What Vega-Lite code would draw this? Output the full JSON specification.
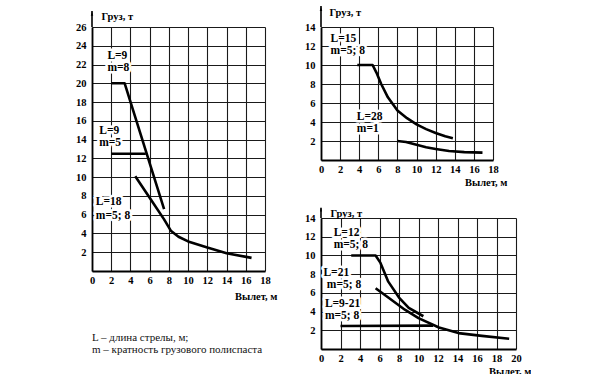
{
  "$schema": "https://vega.github.io/schema/vega-lite/v6.json",
  "background": "white",
  "padding": {"left": 75, "top": 5, "right": 0, "bottom": 0},
  "bounds": "full",
  "spacing": 27,
  "hconcat": [
    {
      "width": 173,
      "height": 244,
      "title": {
        "text": ["L – длина стрелы, м;", "m – кратность грузового полиспаста"],
        "orient": "bottom",
        "anchor": "start",
        "frame": "group",
        "font": "Liberation Serif",
        "fontSize": 11,
        "fontWeight": "normal",
        "lineHeight": 12,
        "offset": 30,
        "color": "#111"
      },
      "layer": [
        {
          "data": {"values": [
            {"s": "L9m8", "x": 2, "y": 20}, {"s": "L9m8", "x": 3.4, "y": 20}, {"s": "L9m8", "x": 7.5, "y": 6.6},
            {"s": "L9m5", "x": 2, "y": 12.5}, {"s": "L9m5", "x": 5.6, "y": 12.5},
            {"s": "L18", "x": 4.5, "y": 10.1}, {"s": "L18", "x": 6, "y": 7.8}, {"s": "L18", "x": 7.5, "y": 5.5}, {"s": "L18", "x": 8.2, "y": 4.3}, {"s": "L18", "x": 9, "y": 3.65}, {"s": "L18", "x": 10, "y": 3.15}, {"s": "L18", "x": 12, "y": 2.5}, {"s": "L18", "x": 14, "y": 1.9}, {"s": "L18", "x": 16.6, "y": 1.4}
          ]},
          "mark": {"type": "line", "color": "#000", "strokeWidth": 2.6, "strokeJoin": "round", "strokeCap": "butt"},
          "encoding": {
            "x": {"field": "x", "type": "quantitative", "scale": {"domain": [0, 18], "nice": false},
              "axis": {"values": [0, 2, 4, 6, 8, 10, 12, 14, 16, 18], "tickCount": 40, "format": "d", "title": "Вылет, м", "titleAlign": "right", "titleAnchor": null, "titleX": 185, "titleY": 25, "titleBaseline": "middle",
                "encode": {"labels": {"update": {"dx": {"signal": "datum.value === 0 ? -7 : 0"}}}}}},
            "y": {"field": "y", "type": "quantitative", "scale": {"domain": [0, 26], "nice": false},
              "axis": {"values": [2, 4, 6, 8, 10, 12, 14, 16, 18, 20, 22, 24, 26], "tickCount": 40, "format": "d", "title": "Груз, т", "titleAngle": 0, "titleAlign": "left", "titleAnchor": null, "titleX": 9, "titleY": -11, "titleBaseline": "middle", "labelPadding": 6}},
            "detail": {"field": "s"}
          }
        },
        {
          "data": {"name": "lblL", "values": [
            {"x": 1.6, "y": 22.9, "t": "L=9"}, {"x": 1.6, "y": 21.6, "t": "m=8"},
            {"x": 0.75, "y": 14.9, "t": "L=9"}, {"x": 0.75, "y": 13.6, "t": "m=5"},
            {"x": 0.4, "y": 7.4, "t": "L=18"}, {"x": 0.4, "y": 5.9, "t": "m=5; 8"}
          ]},
          "mark": {"type": "text", "align": "left", "baseline": "middle", "font": "Liberation Serif", "fontSize": 11.5, "fontWeight": "bold", "color": "#fff", "stroke": "#fff", "strokeWidth": 5, "strokeJoin": "round"},
          "encoding": {"x": {"field": "x", "type": "quantitative"}, "y": {"field": "y", "type": "quantitative"}, "text": {"field": "t"}}
        },
        {
          "data": {"name": "lblL"},
          "mark": {"type": "text", "align": "left", "baseline": "middle", "font": "Liberation Serif", "fontSize": 11.5, "fontWeight": "bold", "color": "#000"},
          "encoding": {"x": {"field": "x", "type": "quantitative"}, "y": {"field": "y", "type": "quantitative"}, "text": {"field": "t"}}
        },
        {
          "data": {"values": [{"x": 0, "y": 26, "y2": 27.7}]},
          "mark": {"type": "rule", "color": "#000", "strokeWidth": 1.6},
          "encoding": {"x": {"field": "x", "type": "quantitative"}, "y": {"field": "y", "type": "quantitative"}, "y2": {"field": "y2"}}
        },
        {
          "data": {"values": [{"x": 0, "y": 27.3}]},
          "mark": {"type": "point", "shape": "M0,-1L0.35,0.3L-0.35,0.3Z", "size": 49, "filled": true, "color": "#000", "opacity": 1},
          "encoding": {"x": {"field": "x", "type": "quantitative"}, "y": {"field": "y", "type": "quantitative"}}
        }
      ]
    },
    {
      "spacing": 18,
      "vconcat": [
        {
          "width": 172,
          "height": 133,
          "layer": [
            {
              "data": {"values": [
                {"s": "L15", "x": 3.8, "y": 10}, {"s": "L15", "x": 5.4, "y": 10}, {"s": "L15", "x": 5.8, "y": 9.2}, {"s": "L15", "x": 6.3, "y": 8.0}, {"s": "L15", "x": 7, "y": 6.6}, {"s": "L15", "x": 8, "y": 5.2}, {"s": "L15", "x": 9, "y": 4.4}, {"s": "L15", "x": 10, "y": 3.75}, {"s": "L15", "x": 11, "y": 3.25}, {"s": "L15", "x": 12, "y": 2.85}, {"s": "L15", "x": 13, "y": 2.5}, {"s": "L15", "x": 13.8, "y": 2.3},
                {"s": "L28", "x": 8, "y": 2.0}, {"s": "L28", "x": 8.9, "y": 1.9}, {"s": "L28", "x": 10, "y": 1.6}, {"s": "L28", "x": 11, "y": 1.35}, {"s": "L28", "x": 12, "y": 1.15}, {"s": "L28", "x": 13.4, "y": 0.95}, {"s": "L28", "x": 15, "y": 0.83}, {"s": "L28", "x": 16.9, "y": 0.78}
              ]},
              "mark": {"type": "line", "color": "#000", "strokeWidth": 2.6, "strokeJoin": "round"},
              "encoding": {
                "x": {"field": "x", "type": "quantitative", "scale": {"domain": [0, 18], "nice": false},
                  "axis": {"values": [0, 2, 4, 6, 8, 10, 12, 14, 16, 18], "tickCount": 40, "format": "d", "title": "Вылет, м", "titleAlign": "right", "titleAnchor": null, "titleX": 186, "titleY": 22, "titleBaseline": "middle",
                    "encode": {"labels": {"update": {"dx": {"signal": "datum.value === 0 ? -6.5 : 0"}}}}}},
                "y": {"field": "y", "type": "quantitative", "scale": {"domain": [0, 14], "nice": false},
                  "axis": {"values": [2, 4, 6, 8, 10, 12, 14], "tickCount": 40, "format": "d", "title": "Груз, т", "titleAngle": 0, "titleAlign": "left", "titleAnchor": null, "titleX": 8, "titleY": -15, "titleBaseline": "middle", "labelPadding": 6}},
                "detail": {"field": "s"}
              }
            },
            {
              "data": {"name": "lblTR", "values": [
                {"x": 1.0, "y": 12.7, "t": "L=15"}, {"x": 1.0, "y": 11.5, "t": "m=5; 8"},
                {"x": 3.75, "y": 4.5, "t": "L=28"}, {"x": 3.75, "y": 3.26, "t": "m=1"}
              ]},
              "mark": {"type": "text", "align": "left", "baseline": "middle", "font": "Liberation Serif", "fontSize": 11.5, "fontWeight": "bold", "color": "#fff", "stroke": "#fff", "strokeWidth": 5, "strokeJoin": "round"},
              "encoding": {"x": {"field": "x", "type": "quantitative"}, "y": {"field": "y", "type": "quantitative"}, "text": {"field": "t"}}
            },
            {
              "data": {"name": "lblTR"},
              "mark": {"type": "text", "align": "left", "baseline": "middle", "font": "Liberation Serif", "fontSize": 11.5, "fontWeight": "bold", "color": "#000"},
              "encoding": {"x": {"field": "x", "type": "quantitative"}, "y": {"field": "y", "type": "quantitative"}, "text": {"field": "t"}}
            },
            {
              "data": {"values": [{"x": 0, "y": 14, "y2": 16.2}]},
              "mark": {"type": "rule", "color": "#000", "strokeWidth": 1.6},
              "encoding": {"x": {"field": "x", "type": "quantitative"}, "y": {"field": "y", "type": "quantitative"}, "y2": {"field": "y2"}}
            },
            {
              "data": {"values": [{"x": 0, "y": 15.8}]},
              "mark": {"type": "point", "shape": "M0,-1L0.35,0.3L-0.35,0.3Z", "size": 49, "filled": true, "color": "#000", "opacity": 1},
              "encoding": {"x": {"field": "x", "type": "quantitative"}, "y": {"field": "y", "type": "quantitative"}}
            }
          ]
        },
        {
          "width": 195,
          "height": 131,
          "layer": [
            {
              "data": {"values": [
                {"s": "L12", "x": 3.1, "y": 10}, {"s": "L12", "x": 5.6, "y": 10}, {"s": "L12", "x": 6.1, "y": 9.2}, {"s": "L12", "x": 6.9, "y": 7.2}, {"s": "L12", "x": 8, "y": 5.5}, {"s": "L12", "x": 9, "y": 4.4}, {"s": "L12", "x": 10.5, "y": 3.5},
                {"s": "L21", "x": 5.6, "y": 6.5}, {"s": "L21", "x": 6.9, "y": 5.5}, {"s": "L21", "x": 8.6, "y": 4.2}, {"s": "L21", "x": 10, "y": 3.3}, {"s": "L21", "x": 12.1, "y": 2.3}, {"s": "L21", "x": 14.1, "y": 1.7}, {"s": "L21", "x": 16.5, "y": 1.4}, {"s": "L21", "x": 19.3, "y": 1.1},
                {"s": "L921", "x": 2, "y": 2.45}, {"s": "L921", "x": 11.5, "y": 2.5}
              ]},
              "mark": {"type": "line", "color": "#000", "strokeWidth": 2.6, "strokeJoin": "round"},
              "encoding": {
                "x": {"field": "x", "type": "quantitative", "scale": {"domain": [0, 20], "nice": false},
                  "axis": {"values": [0, 2, 4, 6, 8, 10, 12, 14, 16, 18, 20], "tickCount": 40, "format": "d", "title": "Вылет, м", "titleAlign": "right", "titleAnchor": null, "titleX": 210, "titleY": 22, "titleBaseline": "middle",
                    "encode": {"labels": {"update": {"dx": {"signal": "datum.value === 0 ? -6 : 0"}}}}}},
                "y": {"field": "y", "type": "quantitative", "scale": {"domain": [0, 14], "nice": false},
                  "axis": {"values": [2, 4, 6, 8, 10, 12, 14], "tickCount": 40, "format": "d", "title": "Груз, т", "titleAngle": 0, "titleAlign": "left", "titleAnchor": null, "titleX": 9, "titleY": -5, "titleBaseline": "middle", "labelPadding": 6}},
                "detail": {"field": "s"}
              }
            },
            {
              "data": {"name": "lblBR", "values": [
                {"x": 1.3, "y": 12.4, "t": "L=12"}, {"x": 1.3, "y": 11.1, "t": "m=5; 8"},
                {"x": 0.25, "y": 8.1, "t": "L=21"}, {"x": 0.6, "y": 6.8, "t": "m=5; 8"},
                {"x": 0.4, "y": 4.8, "t": "L=9-21"}, {"x": 0.4, "y": 3.5, "t": "m=5; 8"}
              ]},
              "mark": {"type": "text", "align": "left", "baseline": "middle", "font": "Liberation Serif", "fontSize": 11.5, "fontWeight": "bold", "color": "#fff", "stroke": "#fff", "strokeWidth": 5, "strokeJoin": "round"},
              "encoding": {"x": {"field": "x", "type": "quantitative"}, "y": {"field": "y", "type": "quantitative"}, "text": {"field": "t"}}
            },
            {
              "data": {"name": "lblBR"},
              "mark": {"type": "text", "align": "left", "baseline": "middle", "font": "Liberation Serif", "fontSize": 11.5, "fontWeight": "bold", "color": "#000"},
              "encoding": {"x": {"field": "x", "type": "quantitative"}, "y": {"field": "y", "type": "quantitative"}, "text": {"field": "t"}}
            },
            {
              "data": {"values": [{"x": 0, "y": 14, "y2": 15.1}]},
              "mark": {"type": "rule", "color": "#000", "strokeWidth": 1.6},
              "encoding": {"x": {"field": "x", "type": "quantitative"}, "y": {"field": "y", "type": "quantitative"}, "y2": {"field": "y2"}}
            },
            {
              "data": {"values": [{"x": 0, "y": 14.8}]},
              "mark": {"type": "point", "shape": "M0,-1L0.35,0.3L-0.35,0.3Z", "size": 36, "filled": true, "color": "#000", "opacity": 1},
              "encoding": {"x": {"field": "x", "type": "quantitative"}, "y": {"field": "y", "type": "quantitative"}}
            }
          ]
        }
      ]
    }
  ],
  "config": {
    "font": "Liberation Serif",
    "view": {"stroke": null},
    "axis": {
      "labelFont": "Liberation Serif", "labelFontSize": 10.5, "labelFontWeight": "bold", "labelColor": "#000",
      "titleFont": "Liberation Serif", "titleFontSize": 10.5, "titleFontWeight": "bold", "titleColor": "#000",
      "domainColor": "#000", "domainWidth": 1.8,
      "grid": true, "gridColor": "#1a1a1a", "gridWidth": 1.1, "gridOpacity": 1,
      "ticks": false, "labelPadding": 4, "labelFlush": false, "labelOverlap": false
    }
  }
}
